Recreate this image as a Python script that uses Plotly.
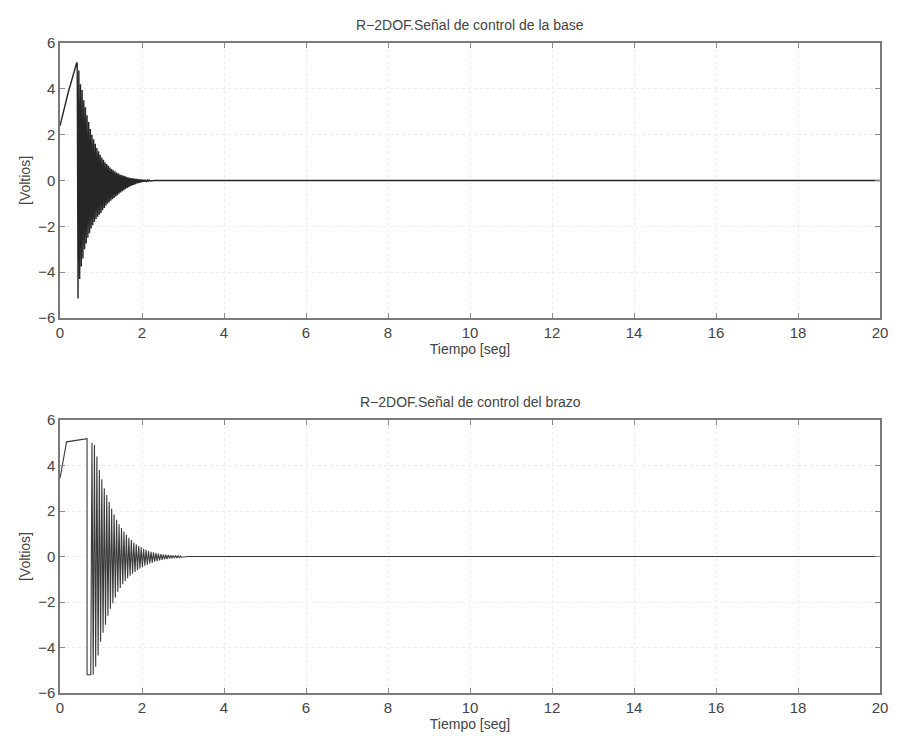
import numpy as np
import plotly.graph_objects as go
from plotly.subplots import make_subplots

# ---- Data: base control signal (top) ----
base_start_t = [0.0, 0.20, 0.41]
base_start_v = [2.38, 3.84, 5.15]
base_osc_t0 = 0.42
base_osc_dt = 0.02
base_osc_v = [
    5.10, -5.15, 4.80, -4.30, 4.20, -3.75, 3.95, -3.40, 3.50, -3.00,
    3.20, -2.75, 2.85, -2.50, 2.55, -2.30, 2.25, -2.10, 2.00, -1.95,
    1.80, -1.80, 1.60, -1.68, 1.42, -1.58, 1.28, -1.50, 1.12, -1.42,
    1.00, -1.30, 0.90, -1.20, 0.80, -1.10, 0.72, -1.02, 0.64, -0.95,
    0.57, -0.88, 0.50, -0.82, 0.45, -0.76, 0.40, -0.70, 0.35, -0.64,
    0.31, -0.58, 0.27, -0.52, 0.24, -0.47, 0.21, -0.42, 0.19, -0.37,
    0.16, -0.33, 0.14, -0.29, 0.12, -0.25, 0.10, -0.22, 0.09, -0.19,
    0.08, -0.16, 0.07, -0.13, 0.06, -0.11, 0.05, -0.09, 0.04, -0.07,
    0.03, -0.06, 0.03, -0.05, 0.02, -0.04, 0.02, -0.03, 0.01, -0.02,
]
base_end_t = [2.30, 20.0]
base_end_v = [0.0, 0.0]

# ---- Data: arm control signal (bottom) ----
arm_start_t = [0.0, 0.16, 0.66, 0.66, 0.75]
arm_start_v = [3.43, 5.04, 5.18, -5.20, -5.20]
arm_osc_t0 = 0.78
arm_osc_dt = 0.03
arm_osc_v = [
    5.00, -5.20, 4.90, -4.85, 4.40, -4.35, 3.80, -3.75, 3.40, -3.35,
    3.00, -3.00, 2.70, -2.60, 2.40, -2.30, 2.10, -2.05, 1.85, -1.80,
    1.62, -1.55, 1.42, -1.38, 1.25, -1.22, 1.10, -1.08, 0.95, -0.96,
    0.82, -0.85, 0.72, -0.76, 0.62, -0.68, 0.54, -0.60, 0.46, -0.53,
    0.40, -0.47, 0.34, -0.41, 0.29, -0.36, 0.25, -0.31, 0.21, -0.27,
    0.18, -0.23, 0.15, -0.20, 0.13, -0.17, 0.11, -0.15, 0.09, -0.13,
    0.08, -0.11, 0.07, -0.09, 0.06, -0.08, 0.05, -0.07, 0.04, -0.06,
    0.03, -0.05, 0.02, -0.03,
]
arm_end_t = [3.10, 20.0]
arm_end_v = [0.0, 0.0]

x_ticks = [0, 2, 4, 6, 8, 10, 12, 14, 16, 18, 20]
y_ticks = [-6, -4, -2, 0, 2, 4, 6]
titles = ["R\u22122DOF.Señal de control de la base", "R\u22122DOF.Señal de control del brazo"]
x_label = "Tiempo [seg]"
y_label = "[Voltios]"


def build(start_t, start_v, t0, dt, osc_v, end_t, end_v):
    osc_t = list(t0 + dt * np.arange(len(osc_v)))
    return start_t + osc_t + end_t, start_v + osc_v + end_v


bt, bv = build(base_start_t, base_start_v, base_osc_t0, base_osc_dt, base_osc_v, base_end_t, base_end_v)
at, av = build(arm_start_t, arm_start_v, arm_osc_t0, arm_osc_dt, arm_osc_v, arm_end_t, arm_end_v)

fig = make_subplots(rows=2, cols=1, vertical_spacing=0.155)
fig.add_trace(go.Scatter(x=bt, y=bv, mode="lines", line=dict(color="#262626", width=1.4), showlegend=False), row=1, col=1)
fig.add_trace(go.Scatter(x=at, y=av, mode="lines", line=dict(color="#3a3a3a", width=1.1), showlegend=False), row=2, col=1)

font = dict(family="Liberation Sans, Arial, sans-serif", color="#444444")
axis_common = dict(
    showline=True, linecolor="#7a7a7a", linewidth=1.5, mirror="ticks",
    ticks="inside", ticklen=5, tickcolor="#8a8a8a",
    showgrid=True, gridcolor="#ececec", griddash="dot", gridwidth=1,
    zeroline=False, tickfont=dict(size=15, color="#444444"),
)
for r in (1, 2):
    fig.update_xaxes(range=[0, 20], tickvals=x_ticks, title=dict(text=x_label, font=dict(size=14), standoff=2),
                     row=r, col=1, **axis_common)
    fig.update_yaxes(range=[-6, 6], tickvals=y_ticks, title=dict(text=y_label, font=dict(size=14), standoff=4),
                     row=r, col=1, **axis_common)

fig.update_layout(
    width=899, height=740,
    margin=dict(l=60, r=19, t=43, b=47),
    paper_bgcolor="white", plot_bgcolor="white",
    font=font,
)
fig.update_layout(yaxis=dict(domain=[0.577, 1.0]), yaxis2=dict(domain=[0.0, 0.42]))

fig.add_annotation(text=titles[0], xref="paper", yref="paper", x=0.5, y=1.0, yshift=8,
                   xanchor="center", yanchor="bottom", showarrow=False, font=dict(size=14, color="#444444"))
fig.add_annotation(text=titles[1], xref="paper", yref="paper", x=0.5, y=0.42, yshift=8,
                   xanchor="center", yanchor="bottom", showarrow=False, font=dict(size=14, color="#444444"))

fig.write_html("out.html")
